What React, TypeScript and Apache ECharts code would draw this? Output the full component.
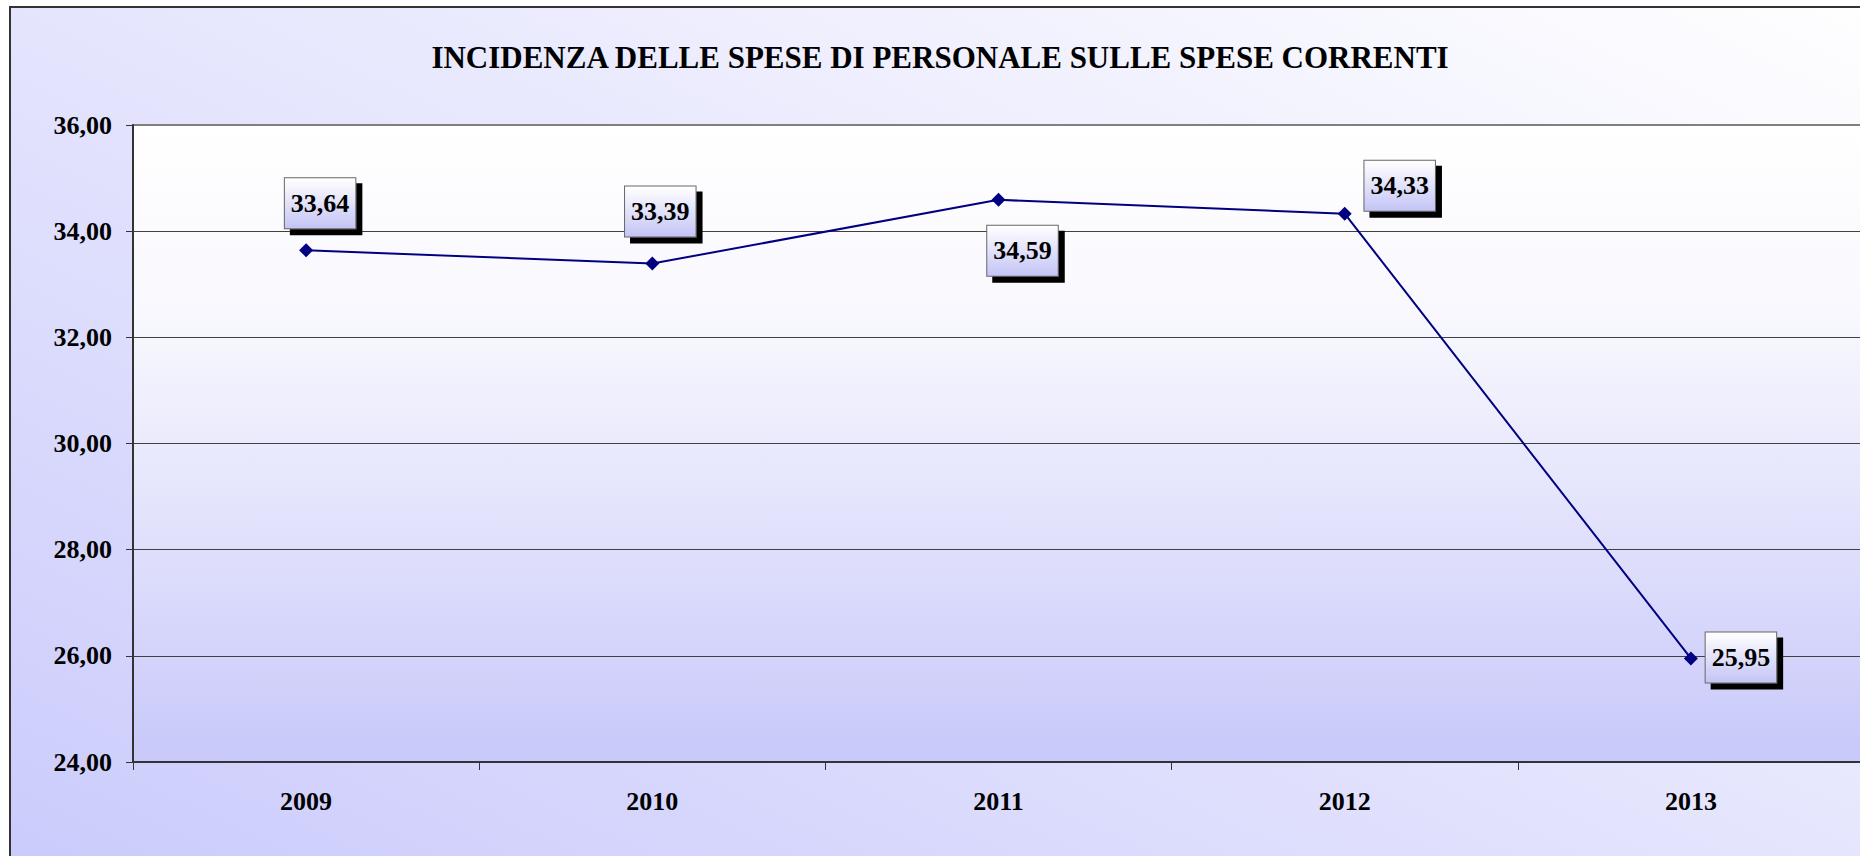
import React, { useEffect, useRef } from "react";
import * as echarts from "echarts";

const TITLE = "INCIDENZA DELLE SPESE DI PERSONALE SULLE SPESE CORRENTI";
const years = ["2009", "2010", "2011", "2012", "2013"];
const values = [33.64, 33.39, 34.59, 34.33, 25.95];
const yMin = 24;
const yMax = 36;
const yStep = 2;

const SERIF = "'Liberation Serif', 'Times New Roman', serif";

const fmt = (v: number) => v.toFixed(2).replace(".", ",");

export default function App() {
  const ref = useRef<HTMLDivElement>(null);

  useEffect(() => {
    if (!ref.current) return;
    const chart = echarts.init(ref.current, undefined, { renderer: "svg" });

    // label placement (style only): offsets from each point, like Excel auto-placement
    const labelOffsets = [
      [14, -47],
      [8, -52],
      [24, 51],
      [55, -28],
      [50, -1],
    ];

    const outerBg = new echarts.graphic.LinearGradient(0, 1, 1, 0, [
      { offset: 0, color: "#CACAFC" },
      { offset: 1, color: "#FFFFFF" },
    ]);
    const plotBg = new echarts.graphic.LinearGradient(0, 0, 0, 1, [
      { offset: 0, color: "#FFFFFF" },
      { offset: 0.3, color: "#F8F8FE" },
      { offset: 1, color: "#C8C8FA" },
    ]);
    const labelBg = new echarts.graphic.LinearGradient(0, 0, 0, 1, [
      { offset: 0, color: "#FFFFFF" },
      { offset: 1, color: "#C4C4F6" },
    ]);

    chart.setOption({
      animation: false,
      backgroundColor: "#FFFFFF",
      title: {
        text: TITLE,
        left: 935,
        top: 37,
        textAlign: "center",
        textStyle: {
          fontFamily: SERIF,
          fontWeight: "bold",
          fontSize: 31,
          color: "#000000",
        },
      },
      graphic: [
        {
          type: "rect",
          silent: true,
          z: -100,
          shape: { x: 10, y: 7, width: 1900, height: 900 },
          style: { fill: outerBg, stroke: "#333333", lineWidth: 2 },
        },
      ],
      grid: {
        left: 133,
        top: 125,
        width: 1731,
        height: 637,
        containLabel: false,
        outerBoundsMode: "none",
        show: true,
        backgroundColor: plotBg,
        borderColor: "#808080",
        borderWidth: 2,
      },
      xAxis: {
        type: "category",
        data: years,
        boundaryGap: true,
        axisLine: { show: true, lineStyle: { color: "#333333", width: 2 } },
        axisTick: {
          show: true,
          alignWithLabel: false,
          length: 8,
          lineStyle: { color: "#333333", width: 1 },
        },
        axisLabel: {
          margin: 26,
          fontFamily: SERIF,
          fontWeight: "bold",
          fontSize: 26,
          color: "#000000",
        },
        splitLine: { show: false },
      },
      yAxis: {
        type: "value",
        min: yMin,
        max: yMax,
        interval: yStep,
        axisLine: { show: true, lineStyle: { color: "#333333", width: 2 } },
        axisTick: {
          show: true,
          length: 7,
          lineStyle: { color: "#333333", width: 1 },
        },
        axisLabel: {
          margin: 21,
          formatter: (v: number) => fmt(v),
          fontFamily: SERIF,
          fontWeight: "bold",
          fontSize: 26,
          color: "#000000",
        },
        splitLine: {
          show: true,
          showMinLine: false,
          showMaxLine: false,
          lineStyle: { color: "#404040", width: 1 },
        },
      },
      series: [
        {
          type: "line",
          data: values.map((v, i) => ({
            value: v,
            label: { offset: labelOffsets[i] },
          })),
          symbol: "diamond",
          symbolSize: [14, 14],
          showSymbol: true,
          itemStyle: { color: "#000080" },
          lineStyle: { color: "#000080", width: 2 },
          emphasis: { disabled: true },
          label: {
            show: true,
            position: "inside",
            formatter: (p: any) => fmt(p.value),
            fontFamily: SERIF,
            fontWeight: "bold",
            fontSize: 26,
            lineHeight: 30,
            color: "#000000",
            backgroundColor: labelBg,
            borderColor: "#666666",
            borderWidth: 1,
            padding: [10, 6],
            shadowColor: "#000000",
            shadowBlur: 0,
            shadowOffsetX: 6,
            shadowOffsetY: 6,
          },
          z: 5,
        },
      ],
    });

    return () => {
      chart.dispose();
    };
  }, []);

  return (
    <div
      ref={ref}
      style={{
        position: "fixed",
        left: 0,
        top: 0,
        width: 1860,
        height: 856,
      }}
    />
  );
}
